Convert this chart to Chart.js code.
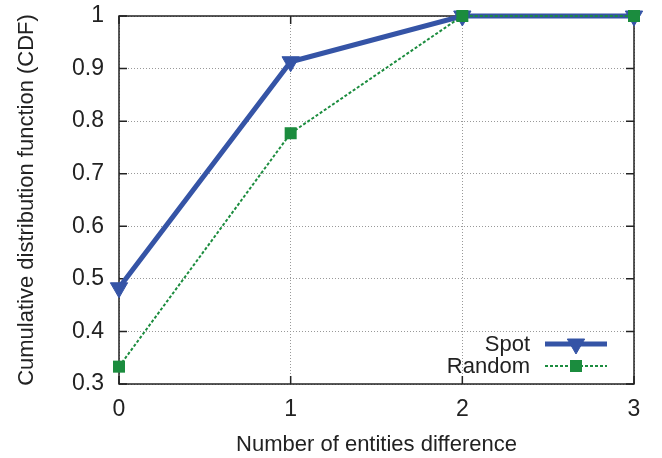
<!DOCTYPE html>
<html>
<head>
<meta charset="utf-8">
<script src="https://cdn.jsdelivr.net/npm/chart.js@4"></script>
<style>
  html, body { margin: 0; padding: 0; background: #fff; }
  #wrap { width: 662px; height: 458px; }
</style>
</head>
<body>
<div id="wrap"><canvas id="cdfChart"></canvas></div>
<script>
// data
const xValues = [0, 1, 2, 3];
const spotValues = [0.483, 0.913, 1, 1];
const randomValues = [0.333, 0.777, 1, 1];
const xTicks = [0, 1, 2, 3];
const yTicks = [0.3, 0.4, 0.5, 0.6, 0.7, 0.8, 0.9, 1];

const FONT = 'Liberation Sans, Arial, Helvetica, sans-serif';
const SPOT_COLOR = '#3554a6';
const RANDOM_COLOR = '#1b8c3e';

const toPoints = (ys) => xValues.map((x, i) => ({ x: x, y: ys[i] }));

// gnuplot style frame with inward ticks, drawn under the lines
const framePlugin = {
    id: 'frame',
    beforeDatasetsDraw(chart) {
        const { ctx, chartArea: a, scales } = chart;
        ctx.save();
        ctx.strokeStyle = '#222';
        ctx.lineWidth = 1.5;
        ctx.strokeRect(a.left, a.top, a.right - a.left, a.bottom - a.top);
        ctx.beginPath();
        xTicks.forEach(v => {
            const px = scales.x.getPixelForValue(v);
            ctx.moveTo(px, a.bottom); ctx.lineTo(px, a.bottom - 8);
            ctx.moveTo(px, a.top); ctx.lineTo(px, a.top + 8);
        });
        yTicks.forEach(v => {
            const py = scales.y.getPixelForValue(v);
            ctx.moveTo(a.left, py); ctx.lineTo(a.left + 8, py);
            ctx.moveTo(a.right, py); ctx.lineTo(a.right - 8, py);
        });
        ctx.stroke();
        ctx.restore();
    }
};

// legend with text on the left and sample on the right
const keyPlugin = {
    id: 'key',
    afterDatasetsDraw(chart) {
        const { ctx, chartArea: a } = chart;
        const textRight = a.right - 104;
        const lineStart = a.right - 89;
        const lineEnd = a.right - 27;
        const mid = (lineStart + lineEnd) / 2;
        const rows = [
            { label: 'Spot', y: a.bottom - 40 },
            { label: 'Random', y: a.bottom - 18 }
        ];
        ctx.save();
        ctx.font = '22px ' + FONT;
        ctx.textAlign = 'right';
        ctx.textBaseline = 'middle';
        rows.forEach((r, i) => {
            const ds = chart.data.datasets[i];
            ctx.fillStyle = '#222';
            ctx.fillText(r.label, textRight, r.y + 1);
            ctx.beginPath();
            ctx.strokeStyle = ds.borderColor;
            ctx.lineWidth = ds.borderWidth;
            ctx.setLineDash(ds.borderDash || []);
            ctx.moveTo(lineStart, r.y);
            ctx.lineTo(lineEnd, r.y);
            ctx.stroke();
            ctx.setLineDash([]);
            ctx.fillStyle = ds.pointBackgroundColor;
            ctx.strokeStyle = ds.pointBorderColor;
            ctx.lineWidth = ds.pointBorderWidth;
            Chart.helpers.drawPoint(ctx, {
                pointStyle: ds.pointStyle,
                rotation: ds.pointRotation || 0,
                radius: ds.pointRadius,
                borderWidth: ds.pointBorderWidth
            }, mid, r.y);
        });
        ctx.restore();
    }
};

const ctx = document.getElementById('cdfChart').getContext('2d');
new Chart(ctx, {
    type: 'line',
    data: {
        datasets: [{
            label: 'Spot',
            data: toPoints(spotValues),
            borderColor: SPOT_COLOR,
            backgroundColor: SPOT_COLOR,
            borderWidth: 5,
            pointStyle: 'triangle',
            pointRotation: 180,
            pointRadius: 10,
            pointBorderWidth: 1,
            pointBackgroundColor: SPOT_COLOR,
            pointBorderColor: SPOT_COLOR,
            tension: 0,
            fill: false,
            clip: false,
            order: 1
        }, {
            label: 'Random',
            data: toPoints(randomValues),
            borderColor: RANDOM_COLOR,
            backgroundColor: RANDOM_COLOR,
            borderWidth: 2,
            borderDash: [3, 2],
            pointStyle: 'rect',
            pointRadius: 8.5,
            pointBorderWidth: 0,
            pointBackgroundColor: RANDOM_COLOR,
            pointBorderColor: RANDOM_COLOR,
            tension: 0,
            fill: false,
            clip: false,
            order: 0
        }]
    },
    options: {
        responsive: true,
        maintainAspectRatio: false,
        animation: false,
        events: [],
        layout: { padding: { left: 0, right: 28, top: 16, bottom: 0 } },
        plugins: {
            legend: { display: false },
            tooltip: { enabled: false }
        },
        scales: {
            x: {
                type: 'linear',
                min: 0,
                max: 3,
                afterBuildTicks: s => { s.ticks = xTicks.map(v => ({ value: v })); },
                afterFit: s => { s.height = 74; s.paddingLeft = 0; s.paddingRight = 0; },
                ticks: {
                    color: '#222',
                    padding: 12,
                    font: { family: FONT, size: 23 },
                    callback: v => String(v)
                },
                grid: {
                    drawTicks: false,
                    color: '#999',
                    lineWidth: 1
                },
                border: { display: false, dash: [1, 2] },
                title: {
                    display: true,
                    text: 'Number of entities difference',
                    color: '#222',
                    font: { family: FONT, size: 22 },
                    padding: { top: 0, bottom: 0 }
                }
            },
            y: {
                min: 0.3,
                max: 1,
                afterBuildTicks: s => { s.ticks = yTicks.map(v => ({ value: v })); },
                afterFit: s => { s.width = 119; s.paddingTop = 0; s.paddingBottom = 0; },
                ticks: {
                    color: '#222',
                    padding: 15,
                    font: { family: FONT, size: 23 },
                    callback: v => String(+v.toFixed(1))
                },
                grid: {
                    drawTicks: false,
                    color: '#999',
                    lineWidth: 1
                },
                border: { display: false, dash: [1, 2] },
                title: {
                    display: true,
                    text: 'Cumulative distribution function (CDF)',
                    color: '#222',
                    font: { family: FONT, size: 22 },
                    padding: { top: 14, bottom: 0 }
                }
            }
        }
    },
    plugins: [framePlugin, keyPlugin]
});
</script>
</body>
</html>
